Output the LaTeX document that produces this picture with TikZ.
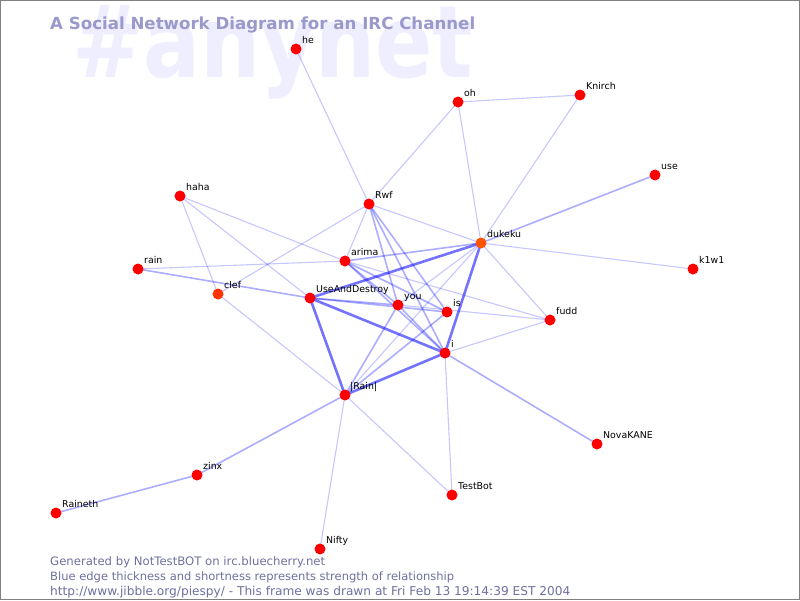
\documentclass[tikz,border=0pt]{standalone}
\usepackage{fontspec}
\setmainfont{DejaVu Sans}
\begin{document}
\begin{tikzpicture}[x=1pt,y=-1pt,
  nd/.style={circle,fill=red,inner sep=0pt,minimum size=11pt},
  ndo/.style={nd,fill=nodeorange},
  lb/.style={anchor=base west,inner sep=0pt,font=\fontsize{9.4}{10}\selectfont,text=black},
  ethin/.style={draw=blue,opacity=0.22,line width=1.1pt},
  emed/.style={draw=blue,opacity=0.32,line width=1.6pt},
  ethick/.style={draw=blue,opacity=0.55,line width=2.6pt},
  foot/.style={anchor=base west,inner sep=0pt,text=footcol}]
\definecolor{nodeorange}{HTML}{FF5500}
\definecolor{clefcol}{HTML}{FF3300}
\definecolor{wmcol}{HTML}{EEEEFF}
\definecolor{titlecol}{HTML}{9999CC}
\definecolor{footcol}{HTML}{7070A0}
\useasboundingbox (0,0) rectangle (800,600);
\fill[white] (0,0) rectangle (800,600);
% watermark and title
\node[anchor=base west,inner sep=0pt,text=wmcol] (wm) at (72,77) {\resizebox{401pt}{72pt}{\bfseries\#anynet}};
\node[anchor=base west,inner sep=0pt,text=titlecol] (title) at (50,29) {\resizebox{425pt}{!}{\bfseries A Social Network Diagram for an IRC Channel}};
% nodes
\coordinate (he) at (296,49);
\coordinate (oh) at (458,102);
\coordinate (Knirch) at (580,95);
\coordinate (use) at (655,175);
\coordinate (haha) at (180,196);
\coordinate (Rwf) at (369,204);
\coordinate (dukeku) at (481,243);
\coordinate (rain) at (138,269);
\coordinate (k1w1) at (693,269);
\coordinate (arima) at (345,261);
\coordinate (clef) at (218,294);
\coordinate (UAD) at (310,298);
\coordinate (you) at (398,305);
\coordinate (is) at (447,312);
\coordinate (fudd) at (550,320);
\coordinate (i) at (445,353);
\coordinate (Rain) at (345,395);
\coordinate (NovaKANE) at (597,444);
\coordinate (zinx) at (197,475);
\coordinate (TestBot) at (452,495);
\coordinate (Raineth) at (56,513);
\coordinate (Nifty) at (320,549);
% edges
\draw[ethin] (he) -- (Rwf);
\draw[ethin] (oh) -- (Knirch);
\draw[ethin] (oh) -- (Rwf);
\draw[ethin] (oh) -- (dukeku);
\draw[ethin] (Knirch) -- (dukeku);
\draw[emed] (use) -- (dukeku);
\draw[ethin] (k1w1) -- (dukeku);
\draw[ethin] (fudd) -- (dukeku);
\draw[ethin] (Rwf) -- (dukeku);
\draw[ethin] (haha) -- (arima);
\draw[ethin] (haha) -- (UAD);
\draw[ethin] (haha) -- (clef);
\draw[ethin] (rain) -- (arima);
\draw[emed] (rain) -- (UAD);
\draw[ethin] (clef) -- (Rwf);
\draw[ethin] (clef) -- (Rain);
\draw[ethin] (Rwf) -- (arima);
\draw[emed] (Rwf) -- (you);
\draw[emed] (Rwf) -- (is);
\draw[emed] (Rwf) -- (i);
\draw[emed] (arima) -- (dukeku);
\draw[emed] (arima) -- (you);
\draw[emed] (arima) -- (is);
\draw[emed] (arima) -- (i);
\draw[ethin] (arima) -- (fudd);
\draw[ethick] (UAD) -- (dukeku);
\draw[emed] (UAD) -- (you);
\draw[emed] (UAD) -- (is);
\draw[ethick] (UAD) -- (i);
\draw[ethick] (UAD) -- (Rain);
\draw[ethin] (you) -- (fudd);
\draw[emed] (you) -- (i);
\draw[emed] (you) -- (Rain);
\draw[emed] (is) -- (Rain);
\draw[ethin] (dukeku) -- (Rain);
\draw[ethin] (dukeku) -- (you);
\draw[ethick] (dukeku) -- (i);
\draw[ethick] (i) -- (Rain);
\draw[ethin] (i) -- (fudd);
\draw[ethin] (i) -- (TestBot);
\draw[emed] (i) -- (NovaKANE);
\draw[emed] (Rain) -- (zinx);
\draw[ethin] (Rain) -- (Nifty);
\draw[ethin] (Rain) -- (TestBot);
\draw[emed] (zinx) -- (Raineth);
% node dots
\foreach \n in {he,oh,Knirch,use,haha,Rwf,rain,k1w1,arima,UAD,you,is,fudd,i,Rain,NovaKANE,zinx,TestBot,Raineth,Nifty}
  \node[nd] (d\n) at (\n) {};
\node[ndo] (ddukeku) at (dukeku) {};
\node[nd,fill=clefcol] (dclef) at (clef) {};
% labels
\node[lb] (lhe) at ([shift={(6,-6)}]he) {he};
\node[lb] (loh) at ([shift={(6,-6)}]oh) {oh};
\node[lb] (lKnirch) at ([shift={(6,-6)}]Knirch) {Knirch};
\node[lb] (luse) at ([shift={(6,-6)}]use) {use};
\node[lb] (lhaha) at ([shift={(6,-6)}]haha) {haha};
\node[lb] (lRwf) at ([shift={(6,-6)}]Rwf) {Rwf};
\node[lb] (ldukeku) at ([shift={(6,-6)}]dukeku) {dukeku};
\node[lb] (lrain) at ([shift={(6,-6)}]rain) {rain};
\node[lb] (lk1w1) at ([shift={(6,-6)}]k1w1) {k1w1};
\node[lb] (larima) at ([shift={(6,-6)}]arima) {arima};
\node[lb] (lclef) at ([shift={(6,-6)}]clef) {clef};
\node[lb] (lUAD) at ([shift={(6,-6)}]UAD) {UseAndDestroy};
\node[lb] (lyou) at ([shift={(6,-6)}]you) {you};
\node[lb] (lis) at ([shift={(6,-6)}]is) {is};
\node[lb] (lfudd) at ([shift={(6,-6)}]fudd) {fudd};
\node[lb] (li) at ([shift={(6,-6)}]i) {i};
\node[lb] (lRain) at ([shift={(5,-6)}]Rain) {|Rain|};
\node[lb] (lNovaKANE) at ([shift={(6,-6)}]NovaKANE) {NovaKANE};
\node[lb] (lzinx) at ([shift={(6,-6)}]zinx) {zinx};
\node[lb] (lTestBot) at ([shift={(6,-6)}]TestBot) {TestBot};
\node[lb] (lRaineth) at ([shift={(6,-6)}]Raineth) {Raineth};
\node[lb] (lNifty) at ([shift={(6,-6)}]Nifty) {Nifty};
% footer
\node[foot] (f1) at (50,565) {\resizebox{275pt}{!}{Generated by NotTestBOT on irc.bluecherry.net}};
\node[foot] (f2) at (50,580) {\resizebox{404pt}{!}{Blue edge thickness and shortness represents strength of relationship}};
\node[foot] (f3) at (50,595) {\resizebox{520pt}{!}{http://www.jibble.org/piespy/ - This frame was drawn at Fri Feb 13 19:14:39 EST 2004}};
% frame
\draw[gray,line width=1pt] (0.5,0.5) rectangle (799.5,599.5);
\end{tikzpicture}
\end{document}
